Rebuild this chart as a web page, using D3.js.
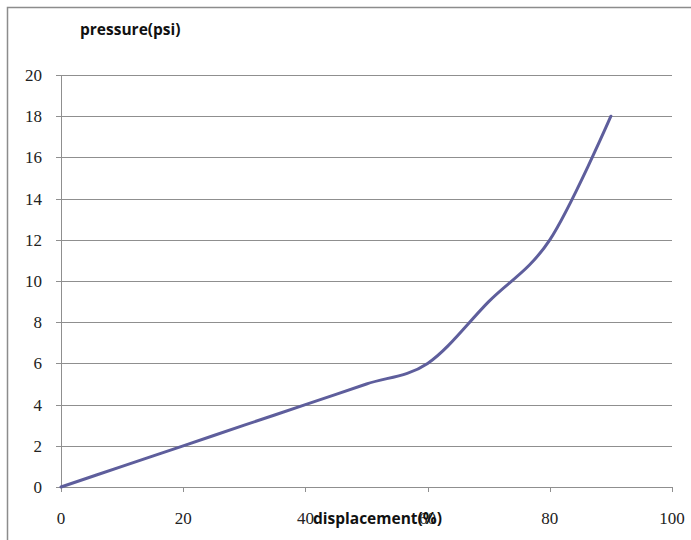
<!DOCTYPE html>
<html>
<head>
<meta charset="utf-8">
<script src="https://cdn.jsdelivr.net/npm/d3@7"></script>
<style>
  body { margin: 0; background: #fff; }
  svg { display: block; }
</style>
</head>
<body>
<div id="chart"></div>
<script>
/* pressure vs displacement, smoothed line */

const displacement = [0, 10, 20, 30, 40, 50, 60, 70, 80, 90];
const pressure = [0, 1, 2, 3, 4, 5, 6, 9, 12, 18];
const xTicks = [0, 20, 40, 60, 80, 100];
const yTicks = [0, 2, 4, 6, 8, 10, 12, 14, 16, 18, 20];

const width = 691, height = 540;
const margin = { top: 75, right: 19, bottom: 53, left: 61 };

const svg = d3.select("#chart")
  .append("svg")
  .attr("width", width)
  .attr("height", height);

// Outer chart border (only left and top visible)
svg.append("path")
  .attr("d", `M7.5,${height} V7.5 H${width}`)
  .attr("fill", "none")
  .attr("stroke", "#8c8c8c")
  .attr("stroke-width", 1.5);

const x = d3.scaleLinear().domain([0, 100]).range([margin.left, width - margin.right]);
const y = d3.scaleLinear().domain([0, 20]).range([height - margin.bottom, margin.top]);

// Gridlines
svg.selectAll(".grid")
  .data(yTicks)
  .join("line")
  .attr("class", "grid")
  .attr("x1", x(0) - 5)
  .attr("x2", x(100))
  .attr("y1", d => Math.round(y(d)) + 0.5)
  .attr("y2", d => Math.round(y(d)) + 0.5)
  .attr("stroke", "#8f8f8f")
  .attr("stroke-width", 1);

// Y axis line
svg.append("line")
  .attr("x1", x(0) + 0.5).attr("x2", x(0) + 0.5)
  .attr("y1", y(20)).attr("y2", y(0))
  .attr("stroke", "#8f8f8f");

// X tick marks
svg.selectAll(".xtick")
  .data(xTicks)
  .join("line")
  .attr("class", "xtick")
  .attr("x1", d => Math.round(x(d)) + 0.5)
  .attr("x2", d => Math.round(x(d)) + 0.5)
  .attr("y1", y(0))
  .attr("y2", y(0) + 5)
  .attr("stroke", "#8f8f8f");

// Tick labels
const tickFont = "'Liberation Serif', 'DejaVu Serif', serif";

svg.selectAll(".ylabel")
  .data(yTicks)
  .join("text")
  .attr("class", "ylabel")
  .attr("x", 42)
  .attr("y", d => y(d))
  .attr("dy", "0.35em")
  .attr("text-anchor", "end")
  .attr("font-family", tickFont)
  .attr("font-size", 17)
  .attr("fill", "#222")
  .text(d => d);

svg.selectAll(".xlabel")
  .data(xTicks)
  .join("text")
  .attr("class", "xlabel")
  .attr("x", d => x(d))
  .attr("y", y(0) + 37)
  .attr("text-anchor", "middle")
  .attr("font-family", tickFont)
  .attr("font-size", 17)
  .attr("fill", "#222")
  .text(d => d);

// Axis titles
const titleFont = "'Open Sans', 'Noto Sans', sans-serif";

svg.append("text")
  .attr("x", 80)
  .attr("y", 35)
  .attr("font-family", titleFont)
  .attr("font-weight", "bold")
  .attr("font-size", 15.5)
  .attr("fill", "#111")
  .text("pressure(psi)");

svg.append("text")
  .attr("x", 313)
  .attr("y", 524)
  .attr("font-family", titleFont)
  .attr("font-weight", "bold")
  .attr("font-size", 15.5)
  .attr("fill", "#111")
  .text("displacement(%)");

// Series line
const points = displacement.map((d, i) => [d, pressure[i]]);
const line = d3.line()
  .x(d => x(d[0]))
  .y(d => y(d[1]))
  .curve(d3.curveCatmullRom.alpha(0));

svg.append("path")
  .datum(points)
  .attr("d", line)
  .attr("fill", "none")
  .attr("stroke", "#5e5e9c")
  .attr("stroke-width", 3)
  .attr("stroke-linecap", "round");
</script>
</body>
</html>
